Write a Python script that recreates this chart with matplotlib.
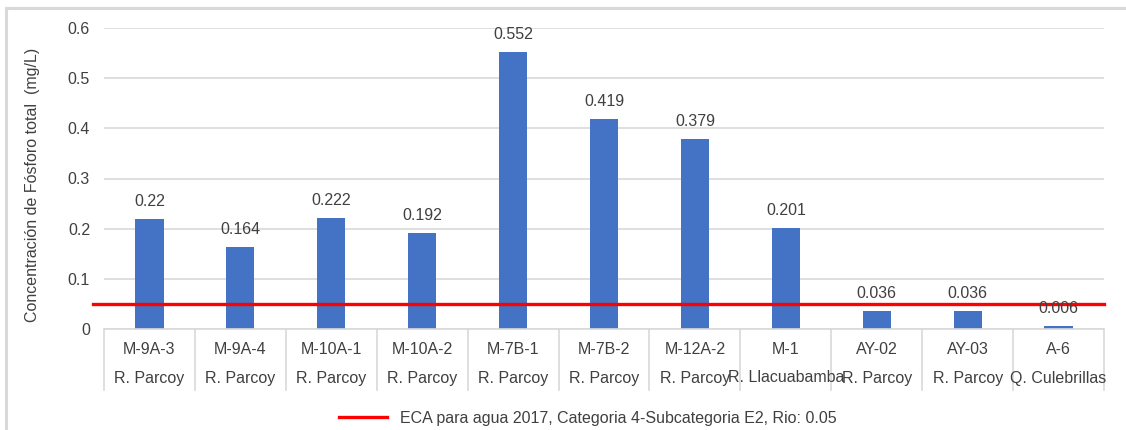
import matplotlib
matplotlib.use("Agg")
import matplotlib.pyplot as plt
from matplotlib.lines import Line2D
from matplotlib.transforms import blended_transform_factory, offset_copy

plt.rcParams['font.family'] = ['Liberation Sans', 'DejaVu Sans']

stations = ["M-9A-3", "M-9A-4", "M-10A-1", "M-10A-2", "M-7B-1", "M-7B-2",
            "M-12A-2", "M-1", "AY-02", "AY-03", "A-6"]
rivers = ["R. Parcoy", "R. Parcoy", "R. Parcoy", "R. Parcoy", "R. Parcoy", "R. Parcoy",
          "R. Parcoy", "R. Llacuabamba", "R. Parcoy", "R. Parcoy", "Q. Culebrillas"]
phosphorus = [0.22, 0.164, 0.222, 0.192, 0.552, 0.419, 0.379, 0.201, 0.036, 0.036, 0.006]
value_labels = ["0.22", "0.164", "0.222", "0.192", "0.552", "0.419", "0.379", "0.201",
                "0.036", "0.036", "0.006"]
eca_limit = 0.05
eca_label = "ECA para agua 2017, Categoria 4-Subcategoria E2, Rio: 0.05"
y_ticks = [0, 0.1, 0.2, 0.3, 0.4, 0.5, 0.6]
y_tick_labels = ["0", "0.1", "0.2", "0.3", "0.4", "0.5", "0.6"]

W, H = 1126, 430
fig = plt.figure(figsize=(W / 100, H / 100), dpi=100)
ax = fig.add_axes([104 / W, 1 - 329 / H, (1104 - 104) / W, (329 - 28) / H])

text_color = "#404040"
grid_color = "#d9d9d9"
fs = 11.5

x = list(range(len(stations)))
ax.bar(x, phosphorus, width=0.31, color="#4472C4", zorder=2)
ax.set_xlim(-0.5, len(stations) - 0.5)
ax.set_ylim(0, 0.6)
ax.set_yticks(y_ticks)
ax.set_yticklabels(y_tick_labels)
ax.tick_params(axis='y', length=0, pad=10, labelsize=fs, labelcolor=text_color)
ax.set_xticks([])
ax.grid(axis='y', color=grid_color, linewidth=1.2, zorder=0)
for side in ("top", "right", "left"):
    ax.spines[side].set_visible(False)
ax.spines["bottom"].set_color(grid_color)
ax.spines["bottom"].set_linewidth(1.2)

# value labels above bars
for xi, v, lab in zip(x, phosphorus, value_labels):
    ax.annotate(lab, (xi, v), xytext=(0, 7), textcoords="offset points",
                ha="center", va="bottom", fontsize=fs, color=text_color, zorder=4)

# ECA reference line
trans_ax = blended_transform_factory(ax.transAxes, ax.transData)
ax.plot([-0.011, 1.0], [eca_limit, eca_limit], color="#FF0000", linewidth=2.4,
        transform=trans_ax, clip_on=False, zorder=3)

# two-level category axis
trans_cat = blended_transform_factory(ax.transData, ax.transAxes)
for xi, (s, r) in enumerate(zip(stations, rivers)):
    ax.text(xi, 0, s, transform=offset_copy(trans_cat, fig=fig, x=0, y=-20 * 0.72, units='points'),
            ha="center", va="center", fontsize=fs, color=text_color)
    ax.text(xi, 0, r, transform=offset_copy(trans_cat, fig=fig, x=0, y=-49 * 0.72, units='points'),
            ha="center", va="center", fontsize=fs, color=text_color)
sep_len = 61 / (329 - 28)
for b in range(len(stations) + 1):
    ax.plot([b - 0.5, b - 0.5], [0, -sep_len], color=grid_color, linewidth=1.2,
            transform=trans_cat, clip_on=False)

fig.text(33 / W, 1 - 185 / H, "Concentración de Fósforo total  (mg/L)", rotation=90,
         ha="center", va="center", fontsize=fs, color=text_color)

# legend
handle = Line2D([], [], color="#FF0000", linewidth=2.4)
fig.legend([handle], [eca_label], loc="center", bbox_to_anchor=(588 / W, 1 - 418 / H),
           frameon=False, fontsize=fs, handlelength=3.0, handletextpad=0.8,
           labelcolor=text_color)

# outer chart frame
fig.add_artist(Line2D([6 / W, 6 / W], [0, 1 - 8 / H], color="#d9d9d9", linewidth=2.2,
                      transform=fig.transFigure))
fig.add_artist(Line2D([6 / W, 1], [1 - 8 / H, 1 - 8 / H], color="#d9d9d9", linewidth=2.2,
                      transform=fig.transFigure))

fig.savefig("out.png", dpi=100)
